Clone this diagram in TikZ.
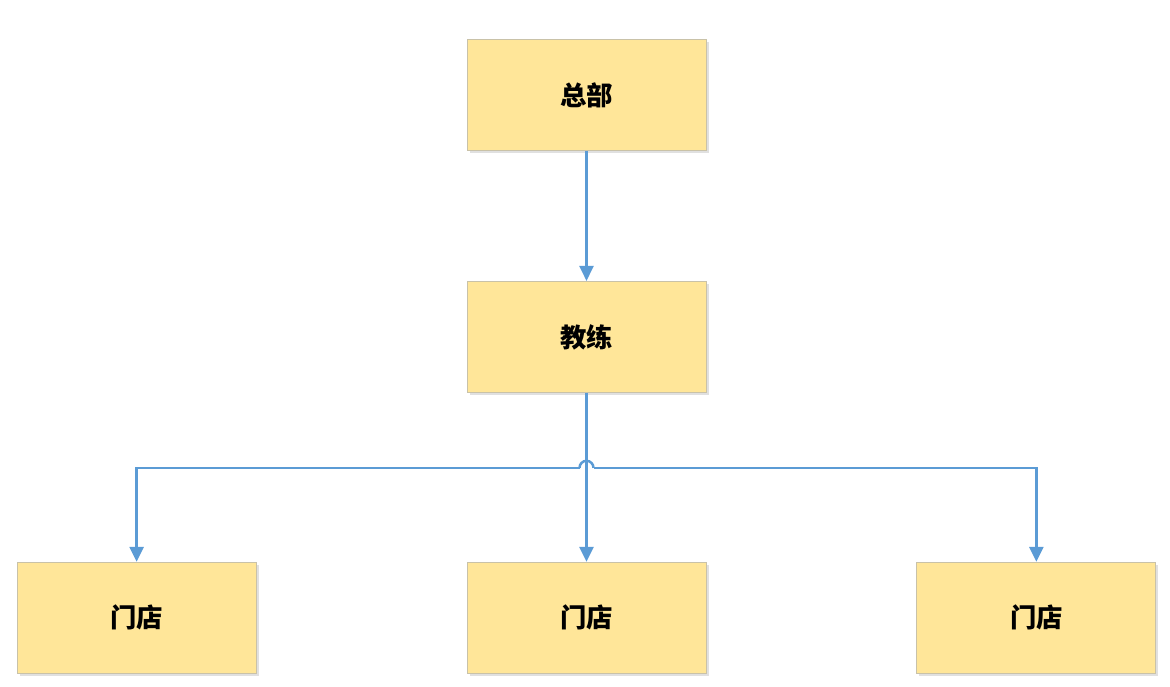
\documentclass[tikz,border=0pt]{standalone}
\usepackage{fontspec}
\newfontfamily\cjk{Noto Sans CJK SC}
\usetikzlibrary{arrows.meta,calc,positioning,shadows}
\definecolor{BoxFill}{HTML}{FFE699}
\definecolor{BoxLine}{HTML}{C9C2A8}
\definecolor{Link}{HTML}{5B9BD5}
\tikzset{
  unit/.style={
    draw=BoxLine, line width=0.5pt, fill=BoxFill,
    minimum width=4.78cm, minimum height=2.22cm, align=center,
    font=\cjk\fontsize{15}{18}\selectfont\bfseries,
    drop shadow={shadow xshift=0.05cm, shadow yshift=-0.05cm, fill=black, opacity=0.12}
  },
  link/.style={-{Triangle[length=0.3cm,width=0.28cm]}, line width=1.4pt, draw=Link},
  bus/.style={line width=1.4pt, draw=Link}
}

\begin{document}
\begin{tikzpicture}[node distance=2.6cm and 4.2cm]
    \useasboundingbox (0,0) rectangle (23.4,-13.74);
    \node[unit] (hq) at (11.73,-1.9) {总部};
    \node[unit,below=of hq] (coach) {教练};
    \node[unit,below=3.38cm of coach] (store2) {门店};
    \node[unit,left=of store2] (store1) {门店};
    \node[unit,right=of store2] (store3) {门店};
    \coordinate (split) at ($(coach.south)+(0,-1.5)$);
    \draw[link] (hq) -- (coach);
    \draw[link] (coach) -- (store2);
    % horizontal bus with a hop over the middle line
    \draw[link] ($(split)+(-0.14,0)$) -- (split -| store1) -- (store1.north);
    \draw[link] ($(split)+(0.14,0)$) -- (split -| store3) -- (store3.north);
    \draw[bus] ($(split)+(-0.14,0)$) arc[start angle=180,end angle=0,radius=0.14];
\end{tikzpicture}
\end{document}
